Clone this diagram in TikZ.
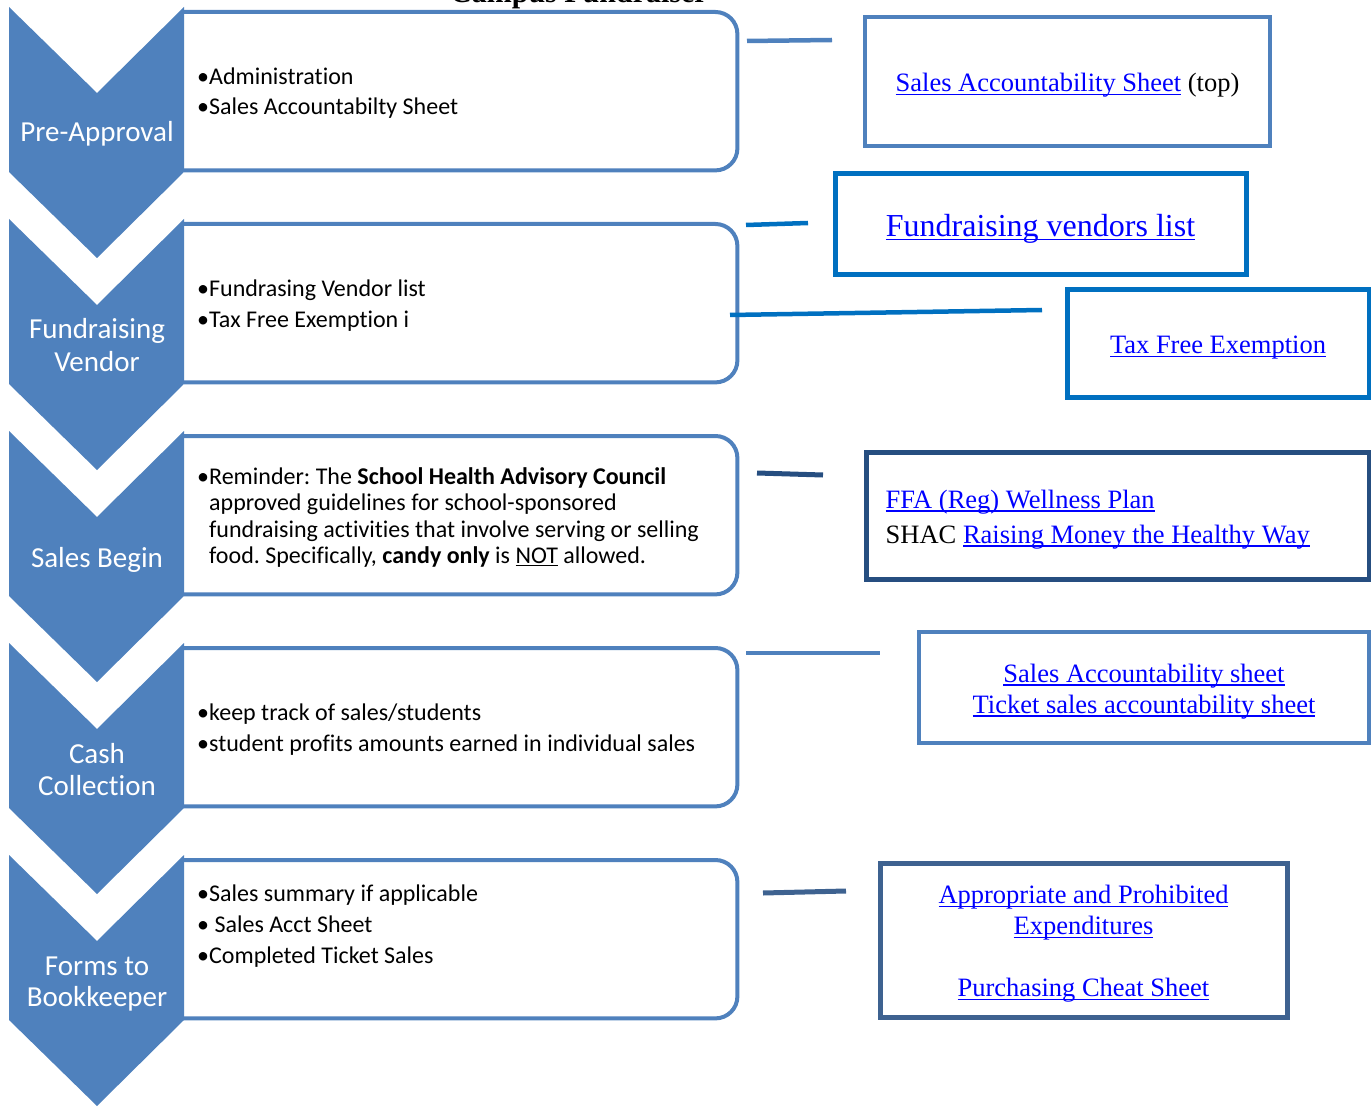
\documentclass[tikz,border=0pt]{standalone}
\usepackage{fontspec}
\setmainfont{Liberation Serif}
\newfontfamily\carlito[Ligatures=NoCommon]{Carlito}
\definecolor{chevblue}{HTML}{4F81BD}
\definecolor{vivid}{HTML}{0070C0}
\definecolor{navy}{HTML}{264E80}
\definecolor{slate}{HTML}{3E6290}
\definecolor{linkblue}{HTML}{0000FF}
% underlined text, rule drawn below the baseline
\newsavebox{\ulinebox}
\newcommand{\underrule}[3]{\sbox{\ulinebox}{#3}\rlap{\rule[-#1]{\wd\ulinebox}{#2}}\usebox{\ulinebox}}
% hyperlink-looking text: blue and underlined
\newcommand{\lnk}[1]{{\color{linkblue}\underrule{3.5pt}{1.4pt}{#1}}}

\tikzset{
  chevron/.pic={\fill[chevblue] (9,0) -- (97,86) -- (184,0) -- (184,165) -- (97,251) -- (9,165) -- cycle;},
  panel/.style={fill=white, minimum width=553pt, minimum height=158pt,
    anchor=north west, inner sep=0pt},
  panelline/.style={draw=chevblue, line width=4pt, rounded corners=22pt},
  chevlabel/.style={anchor=base, inner sep=0pt, text=white, align=center,
    font=\carlito\fontsize{29}{33}\selectfont},
  item/.style={anchor=base west, inner sep=0pt,
    font=\carlito\frenchspacing\fontsize{24}{28}\selectfont},
  linkbox/.style={rectangle, fill=white, inner sep=0pt},
  linktext/.style={align=center, inner sep=0pt, font=\fontsize{26.5}{31}\selectfont},
  connector/.style={line width=4.5pt},
}

\begin{document}
\begin{tikzpicture}[x=1pt, y=-1pt]
\useasboundingbox (0,0) rectangle (1371,1107);

% heading, mostly above the top edge
\node[anchor=base, inner sep=0pt, font=\bfseries\fontsize{30}{30}\selectfont] (title) at (579,3) {Campus Fundraiser};

% step panels: rounded on the right, the left side tucked under the chevron
\foreach \nm/\yt in {p1/12, p2/224, p3/436, p4/648, p5/860} {
  \node[panel] (\nm) at (184,\yt) {};
  \draw[panelline] (\nm.north west) -- (\nm.north east) -- (\nm.south east) -- (\nm.south west);
}

% chevrons down the left side
\pic at (0,7) {chevron};
\pic at (0,219) {chevron};
\pic at (0,431) {chevron};
\pic at (0,643) {chevron};
\pic at (0,855) {chevron};

% chevron labels
\node[chevlabel] (s1) at (97,142) {Pre-Approval};
\node[chevlabel] (s2a) at (97,338) {Fundraising};
\node[chevlabel] (s2b) at (97,371) {Vendor};
\node[chevlabel] (s3) at (97,567) {Sales Begin};
\node[chevlabel] (s4a) at (97,763) {Cash};
\node[chevlabel] (s4b) at (97,795) {Collection};
\node[chevlabel] (s5a) at (97,975) {Forms to};
\node[chevlabel] (s5b) at (97,1006) {Bookkeeper};

% panel contents
\node[item] (t11) at (197,85) {•Administration};
\node[item] (t12) at (197,115) {•Sales Accountabilty Sheet};

\node[item] (t21) at (197,297) {•Fundrasing Vendor list};
\node[item] (t22) at (197,328) {•Tax Free Exemption i};

\node[item] (t31) at (197,484) {•Reminder: The \textbf{School Health Advisory Council}};
\node[item] (t32) at (197,510.5) {\phantom{•}approved guidelines for school-sponsored};
\node[item] (t33) at (197,537) {\phantom{•}fundraising activities that involve serving or selling};
\node[item] (t34) at (197,563.5) {\phantom{•}food. Specifically, \textbf{candy only} is \underrule{2.5pt}{1.1pt}{NOT} allowed.};

\node[item] (t41) at (197,720) {•keep track of sales/students};
\node[item] (t42) at (197,751) {•student profits amounts earned in individual sales};

\node[item] (t51) at (197,901) {•Sales summary if applicable};
\node[item] (t52) at (197,932) {• Sales Acct Sheet};
\node[item] (t53) at (197,963) {•Completed Ticket Sales};

% reference boxes
\node[linkbox, draw=chevblue, line width=4pt, minimum width=405pt, minimum height=129pt]
  (r1) at (1067.5,81.5) {};
\node[linkbox, draw=vivid, line width=5pt, minimum width=411pt, minimum height=101pt]
  (r2) at (1040.5,224.5) {};
\node[linkbox, draw=vivid, line width=5pt, minimum width=302pt, minimum height=107pt]
  (r3) at (1218,343.5) {};
\node[linkbox, draw=navy, line width=5pt, minimum width=503pt, minimum height=127pt]
  (r4) at (1117.5,515.5) {};
\node[linkbox, draw=chevblue, line width=4pt, minimum width=450pt, minimum height=111pt]
  (r5) at (1144,687.5) {};
\node[linkbox, draw=slate, line width=5pt, minimum width=407pt, minimum height=154pt]
  (r6) at (1083.5,940) {};

% their texts
\node[linktext] (r1t) at ([yshift=-4pt]r1.center) {\lnk{Sales Accountability Sheet} (top)};
\node[linktext, font=\fontsize{32}{36}\selectfont] (r2t) at ([yshift=-4.5pt]r2.center) {\lnk{Fundraising vendors list}};
\node[linktext] (r3t) at ([yshift=-4pt]r3.center) {\lnk{Tax Free Exemption}};
\node[linktext, align=left, anchor=west, font=\fontsize{26.5}{35}\selectfont] (r4t) at ([xshift=22pt, yshift=-4pt]r4.west)
  {\lnk{FFA (Reg) Wellness Plan}\\SHAC \lnk{Raising Money the Healthy Way}};
\node[linktext] (r5t) at ([yshift=-4pt]r5.center) {\lnk{Sales Accountability sheet}\\\lnk{Ticket sales accountability sheet}};
\node[linktext] (r6t) at ([yshift=-4pt]r6.center) {\lnk{Appropriate and Prohibited}\\\lnk{Expenditures}\\[31pt]\lnk{Purchasing Cheat Sheet}};

% connector stubs between panels and boxes
\coordinate (a1) at (747,41);  \coordinate (b1) at (832,40);
\coordinate (a2) at (746,225); \coordinate (b2) at (808,223);
\coordinate (a3) at (730,315); \coordinate (b3) at (1042,310);
\coordinate (a4) at (757,473); \coordinate (b4) at (823,475);
\coordinate (a5) at (746,653); \coordinate (b5) at (880,653);
\coordinate (a6) at (763,893); \coordinate (b6) at (846,891);
\draw[connector, chevblue] (a1) -- (b1);
\draw[connector, vivid] (a2) -- (b2);
\draw[connector, vivid] (a3) -- (b3);
\draw[connector, navy, line width=5pt] (a4) -- (b4);
\draw[connector, chevblue, line width=4pt] (a5) -- (b5);
\draw[connector, slate, line width=5pt] (a6) -- (b6);
\end{tikzpicture}
\end{document}
